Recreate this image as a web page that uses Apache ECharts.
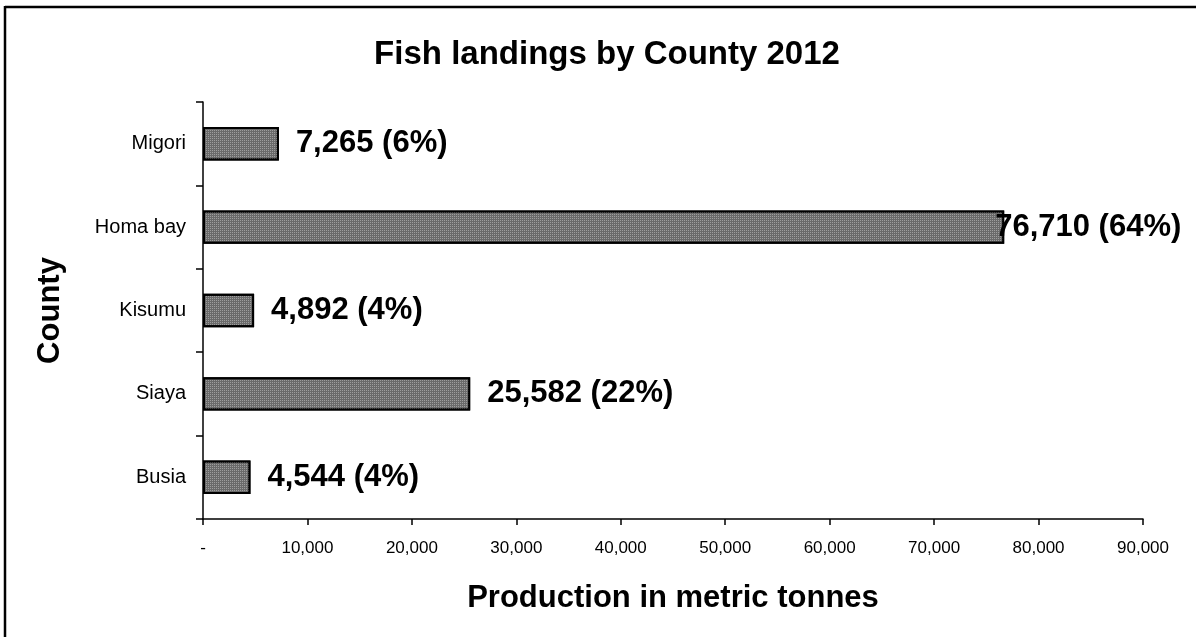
<!DOCTYPE html>
<html>
<head>
<meta charset="utf-8">
<script src="https://cdn.jsdelivr.net/npm/echarts@6/dist/echarts.min.js"></script>
<style>
  html, body { margin: 0; padding: 0; background: #fff; }
  #chart { width: 1196px; height: 637px; }
</style>
</head>
<body>
<div id="chart"></div>
<script>
// Fish landings per county, 2012 (metric tonnes), listed bottom to top
const counties = ['Busia', 'Siaya', 'Kisumu', 'Homa bay', 'Migori'];
const landings = [4544, 25582, 4892, 76710, 7265];
const shares = [4, 22, 4, 64, 6];
const xTicks = [0, 10000, 20000, 30000, 40000, 50000, 60000, 70000, 80000, 90000];

const FONT = '"Liberation Sans", Arial, sans-serif';
const fmt = v => v === 0 ? '-' : v.toLocaleString('en-US');

const chart = echarts.init(document.getElementById('chart'));

const seriesData = landings.map((v, i) => {
  const item = { value: v };
  // the longest bar's label is pulled back over the bar end so it stays inside the frame
  if (v === Math.max(...landings)) item.label = { distance: -9 };
  return item;
});

chart.setOption({
  animation: false,
  backgroundColor: '#fff',
  title: {
    text: 'Fish landings by County 2012',
    left: 602, top: 33, textAlign: 'center',
    textStyle: { fontFamily: FONT, fontSize: 33, fontWeight: 'bold', color: '#000' }
  },
  grid: { left: 203, right: 53, top: 102, bottom: 118 },
  xAxis: {
    type: 'value',
    min: xTicks[0], max: xTicks[xTicks.length - 1], interval: xTicks[1] - xTicks[0],
    name: 'Production in metric tonnes',
    nameLocation: 'middle', nameGap: 64,
    nameTextStyle: { fontFamily: FONT, fontSize: 31, fontWeight: 'bold', color: '#000' },
    axisLine: { show: true, lineStyle: { color: '#000', width: 1.5 } },
    axisTick: { show: true, length: 6, lineStyle: { color: '#000', width: 1.5 } },
    axisLabel: { fontFamily: FONT, fontSize: 17, color: '#000', margin: 21, formatter: fmt },
    splitLine: { show: false }
  },
  yAxis: {
    type: 'category',
    data: counties,
    name: 'County',
    nameLocation: 'middle', nameGap: 137, nameRotate: 90,
    nameTextStyle: { fontFamily: FONT, fontSize: 31, fontWeight: 'bold', color: '#000' },
    axisLine: { show: true, lineStyle: { color: '#000', width: 1.5 } },
    axisTick: { show: true, length: 7, lineStyle: { color: '#000', width: 1.5 } },
    axisLabel: { fontFamily: FONT, fontSize: 20, color: '#000', margin: 17 }
  },
  series: [{
    type: 'bar',
    data: seriesData,
    barWidth: '40%',
    itemStyle: {
      color: '#6a6a6a',
      borderColor: '#000',
      borderWidth: 2,
      decal: {
        symbol: 'rect',
        symbolSize: 1,
        dashArrayX: [1, 1],
        dashArrayY: [1, 1],
        color: 'rgba(200,200,200,0.55)'
      }
    },
    label: {
      show: true,
      position: 'right',
      distance: 17,
      fontFamily: FONT, fontSize: 31, fontWeight: 'bold', color: '#000',
      formatter: p => fmt(p.value) + ' (' + shares[p.dataIndex] + '%)'
    }
  }],
  graphic: [
    { type: 'line', shape: { x1: 5, y1: 7, x2: 1196, y2: 7 }, style: { stroke: '#000', lineWidth: 2.5 } },
    { type: 'line', shape: { x1: 5, y1: 6, x2: 5, y2: 637 }, style: { stroke: '#000', lineWidth: 2.5 } }
  ]
});
</script>
</body>
</html>
